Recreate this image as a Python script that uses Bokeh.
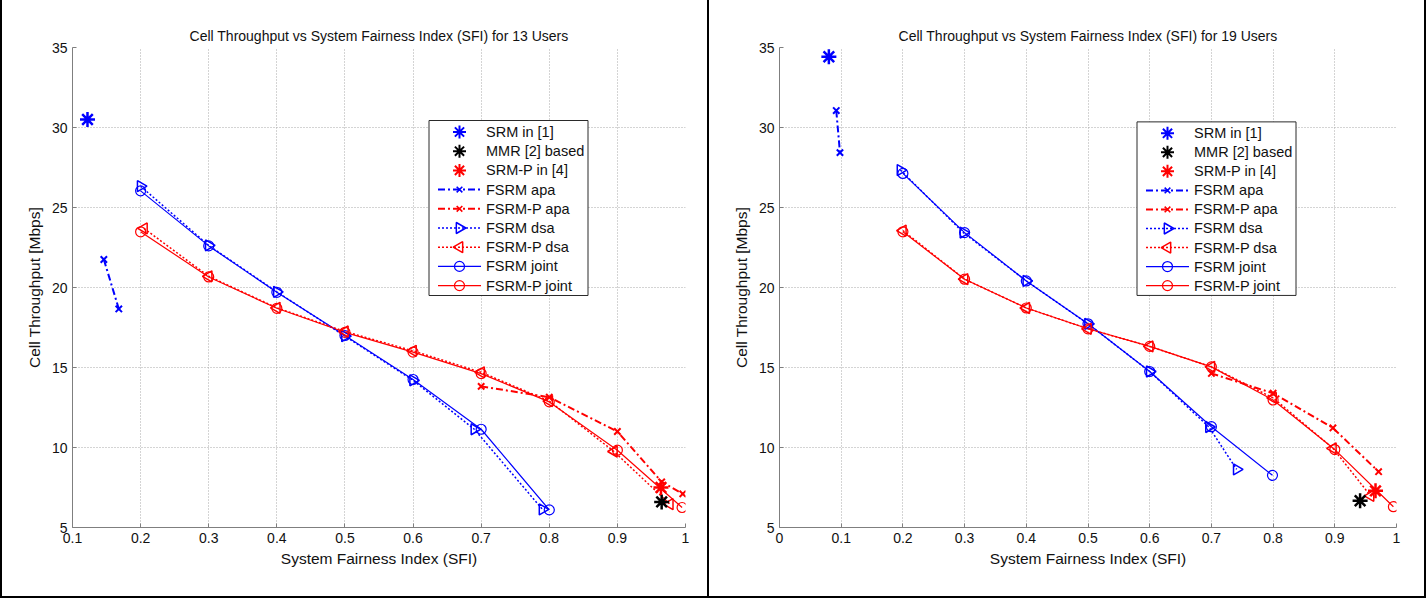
import math
from bokeh.plotting import figure
from bokeh.layouts import row
from bokeh.models import Range1d, FixedTicker, CustomJSTickFormatter
from bokeh.core.properties import value
from bokeh.embed import file_html
from bokeh.resources import INLINE

# ---------------- data: 13 users ----------------
srm13_x = [0.122]
srm13_y = [30.5]
mmr13_x = [0.965]
mmr13_y = [6.6]
srmp13_x = [0.964]
srmp13_y = [7.5]
fsrm_apa13_x = [0.146, 0.168]
fsrm_apa13_y = [21.75, 18.66]
fsrmp_apa13_x = [0.70, 0.80, 0.90, 0.965, 0.996]
fsrmp_apa13_y = [13.82, 13.14, 11.0, 7.85, 7.1]
fsrm_dsa13_x = [0.20, 0.30, 0.40, 0.50, 0.60, 0.69, 0.79]
fsrm_dsa13_y = [26.33, 22.63, 19.73, 16.96, 14.2, 11.14, 6.13]
fsrmp_dsa13_x = [0.205, 0.30, 0.40, 0.50, 0.60, 0.70, 0.80, 0.895, 0.977]
fsrmp_dsa13_y = [23.69, 20.7, 18.73, 17.25, 16.04, 14.7, 12.9, 9.75, 6.46]
fsrm_joint13_x = [0.20, 0.30, 0.40, 0.50, 0.60, 0.70, 0.80]
fsrm_joint13_y = [26.04, 22.6, 19.7, 17.0, 14.25, 11.14, 6.1]
fsrmp_joint13_x = [0.20, 0.30, 0.40, 0.50, 0.60, 0.70, 0.80, 0.90, 0.995]
fsrmp_joint13_y = [23.48, 20.66, 18.7, 17.2, 15.96, 14.62, 12.85, 9.83, 6.25]

# ---------------- data: 19 users ----------------
srm19_x = [0.080]
srm19_y = [34.42]
mmr19_x = [0.941]
mmr19_y = [6.67]
srmp19_x = [0.966]
srmp19_y = [7.29]
fsrm_apa19_x = [0.092, 0.098]
fsrm_apa19_y = [31.06, 28.43]
fsrmp_apa19_x = [0.70, 0.80, 0.897, 0.971]
fsrmp_apa19_y = [14.63, 13.39, 11.22, 8.49]
fsrm_dsa19_x = [0.196, 0.298, 0.40, 0.50, 0.60, 0.696, 0.741]
fsrm_dsa19_y = [27.34, 23.43, 20.41, 17.73, 14.75, 11.28, 8.63]
fsrmp_dsa19_x = [0.20, 0.30, 0.40, 0.50, 0.60, 0.70, 0.80, 0.897, 0.958]
fsrmp_dsa19_y = [23.56, 20.52, 18.72, 17.42, 16.32, 15.04, 13.1, 9.95, 6.98]
fsrm_joint19_x = [0.20, 0.30, 0.40, 0.50, 0.60, 0.70, 0.799]
fsrm_joint19_y = [27.13, 23.43, 20.41, 17.73, 14.75, 11.3, 8.26]
fsrmp_joint19_x = [0.20, 0.30, 0.40, 0.50, 0.60, 0.70, 0.80, 0.90, 0.995]
fsrmp_joint19_y = [23.48, 20.52, 18.72, 17.42, 16.32, 15.04, 12.97, 9.87, 6.30]

# ---------------- ticks / labels ----------------
x_ticks_13 = [0.1, 0.2, 0.3, 0.4, 0.5, 0.6, 0.7, 0.8, 0.9, 1]
x_ticks_19 = [0, 0.1, 0.2, 0.3, 0.4, 0.5, 0.6, 0.7, 0.8, 0.9, 1]
y_ticks = [5, 10, 15, 20, 25, 30, 35]
legend_labels = ["SRM in [1]", "MMR [2] based", "SRM-P in [4]", "FSRM apa", "FSRM-P apa",
                 "FSRM dsa", "FSRM-P dsa", "FSRM joint", "FSRM-P joint"]
title_13 = "Cell Throughput vs System Fairness Index (SFI) for 13 Users"
title_19 = "Cell Throughput vs System Fairness Index (SFI) for 19 Users"
x_label = "System Fairness Index (SFI)"
y_label = "Cell Throughput [Mbps]"

FONT = "Liberation Sans"
BLUE = "#0000ff"
RED = "#ff0000"
BLACK = "#000000"
TXT = "#111111"
DASHDOT = "7 3 2 3"
DOTTED = "2 2"
H = 598
Y_RANGE = (5, 35)

# style of every series: (colour, dash, line width, marker, marker size, angle, marker lw)
STYLES = [
    (BLUE, None, 0, "asterisk", 15, 0, 2.5),
    (BLACK, None, 0, "asterisk", 15, 0, 2.5),
    (RED, None, 0, "asterisk", 15, 0, 2.5),
    (BLUE, DASHDOT, 2, "x", 9, 0, 2),
    (RED, DASHDOT, 2, "x", 9, 0, 2),
    (BLUE, DOTTED, 1.5, "triangle", 11, -math.pi / 2, 1.5),
    (RED, DOTTED, 1.5, "triangle", 11, math.pi / 2, 1.5),
    (BLUE, "solid", 1.2, "circle", 10, 0, 1.2),
    (RED, "solid", 1.2, "circle", 10, 0, 1.2),
]
LEG_MARK_SIZE = [13, 13, 13, 8, 8, 11, 11, 10, 10]
LEG_MARK_LW = [2, 2, 2, 1.6, 1.6, 1.5, 1.5, 1.2, 1.2]


def make_panel(width, xr, xticks, title, series, mb, shadow):
    p = figure(width=width, height=H, output_backend="svg", toolbar_location=None,
               x_range=Range1d(*xr), y_range=Range1d(*Y_RANGE),
               min_border_left=mb[0], min_border_right=mb[1],
               min_border_top=mb[2], min_border_bottom=mb[3],
               styles={"box-shadow": shadow})
    p.title.text = title
    p.title.align = "center"
    p.title.text_font = FONT
    p.title.text_font_size = "14px"
    p.title.text_font_style = "normal"
    p.title.text_color = TXT
    p.title.standoff = 7
    p.outline_line_color = None
    p.background_fill_color = "white"
    p.border_fill_color = None

    p.xaxis.ticker = FixedTicker(ticks=xticks)
    p.yaxis.ticker = FixedTicker(ticks=y_ticks)
    p.xaxis.formatter = CustomJSTickFormatter(code="return String(tick);")
    for ax in (p.xaxis[0], p.yaxis[0]):
        ax.axis_line_color = "#7f7f7f"
        ax.major_tick_line_color = "#7f7f7f"
        ax.major_tick_in = 4
        ax.major_tick_out = 0
        ax.minor_tick_line_color = None
        ax.major_label_text_font = FONT
        ax.major_label_text_font_size = "14px"
        ax.major_label_text_color = TXT
        ax.axis_label_text_font = FONT
        ax.axis_label_text_font_size = "15.5px"
        ax.axis_label_text_font_style = "normal"
        ax.axis_label_text_color = TXT
    p.xaxis.axis_label = x_label
    p.yaxis.axis_label = y_label
    p.xaxis.major_label_standoff = 5
    p.xaxis.axis_label_standoff = 4
    p.yaxis.major_label_standoff = 5
    p.yaxis.axis_label_standoff = 6

    p.grid.grid_line_color = "#a8a8a8"
    p.grid.grid_line_dash = "1 2"
    p.grid.grid_line_width = 1

    # draw order: joint, dsa, apa, asterisks (last on top)
    order = [7, 8, 5, 6, 3, 4, 0, 1, 2]
    for i in order:
        xs, ys = series[i]
        col, dash, lw, mk, ms, ang, mlw = STYLES[i]
        if dash is not None:
            p.line(xs, ys, line_color=col, line_width=lw, line_dash=dash)
        p.scatter(xs, ys, marker=mk, size=ms, angle=ang, line_color=col,
                  fill_color=None, line_width=mlw)

    # ---- legend (drawn in the plot, converted from pixel layout) ----
    fw = width - mb[0] - mb[1]
    fh = H - mb[2] - mb[3]

    def dx(px):
        return xr[0] + (px - mb[0]) / fw * (xr[1] - xr[0])

    def dy(py):
        return Y_RANGE[1] - (py - mb[2]) / fh * (Y_RANGE[1] - Y_RANGE[0])

    box_l, box_r, box_t, box_b = 428.5, 587.5, 120, 295
    row0, step = 131.5, 19.2
    g0, g1, tx = box_l + 9, box_l + 52, box_l + 57
    p.quad(left=[dx(box_l)], right=[dx(box_r)], top=[dy(box_t)], bottom=[dy(box_b)],
           fill_color="white", line_color="#2a2a2a", line_width=1)
    for i, lab in enumerate(legend_labels):
        col, dash, lw, mk, ms, ang, mlw = STYLES[i]
        yc = dy(row0 + i * step)
        if dash is not None:
            p.segment(x0=[dx(g0)], y0=[yc], x1=[dx(g1)], y1=[yc], line_color=col,
                      line_width=max(lw, 1.2), line_dash=dash)
        p.scatter([dx((g0 + g1) / 2)], [yc], marker=mk, size=LEG_MARK_SIZE[i], angle=ang,
                  line_color=col, fill_color=None, line_width=LEG_MARK_LW[i])
        p.text([dx(tx)], [yc], text=[lab], text_baseline="middle", text_align="left",
               text_font=value(FONT), text_font_size="14.5px", text_color=TXT)
    return p


s13 = [(srm13_x, srm13_y), (mmr13_x, mmr13_y), (srmp13_x, srmp13_y),
       (fsrm_apa13_x, fsrm_apa13_y), (fsrmp_apa13_x, fsrmp_apa13_y),
       (fsrm_dsa13_x, fsrm_dsa13_y), (fsrmp_dsa13_x, fsrmp_dsa13_y),
       (fsrm_joint13_x, fsrm_joint13_y), (fsrmp_joint13_x, fsrmp_joint13_y)]
s19 = [(srm19_x, srm19_y), (mmr19_x, mmr19_y), (srmp19_x, srmp19_y),
       (fsrm_apa19_x, fsrm_apa19_y), (fsrmp_apa19_x, fsrmp_apa19_y),
       (fsrm_dsa19_x, fsrm_dsa19_y), (fsrmp_dsa19_x, fsrmp_dsa19_y),
       (fsrm_joint19_x, fsrm_joint19_y), (fsrmp_joint19_x, fsrmp_joint19_y)]

p1 = make_panel(708, (0.1, 1.0), x_ticks_13, title_13, s13, (72, 23, 47, 71),
                "inset 2px 0 0 #000, inset -1px 0 0 #000, inset 0 -2px 0 #000")
p2 = make_panel(718, (0.0, 1.0), x_ticks_19, title_19, s19, (71, 30, 45, 69),
                "inset 1px 0 0 #000, inset -2px 0 0 #000, inset 0 -2px 0 #000")

layout = row(p1, p2, spacing=0)
open("out.html", "w").write(file_html(layout, INLINE))
